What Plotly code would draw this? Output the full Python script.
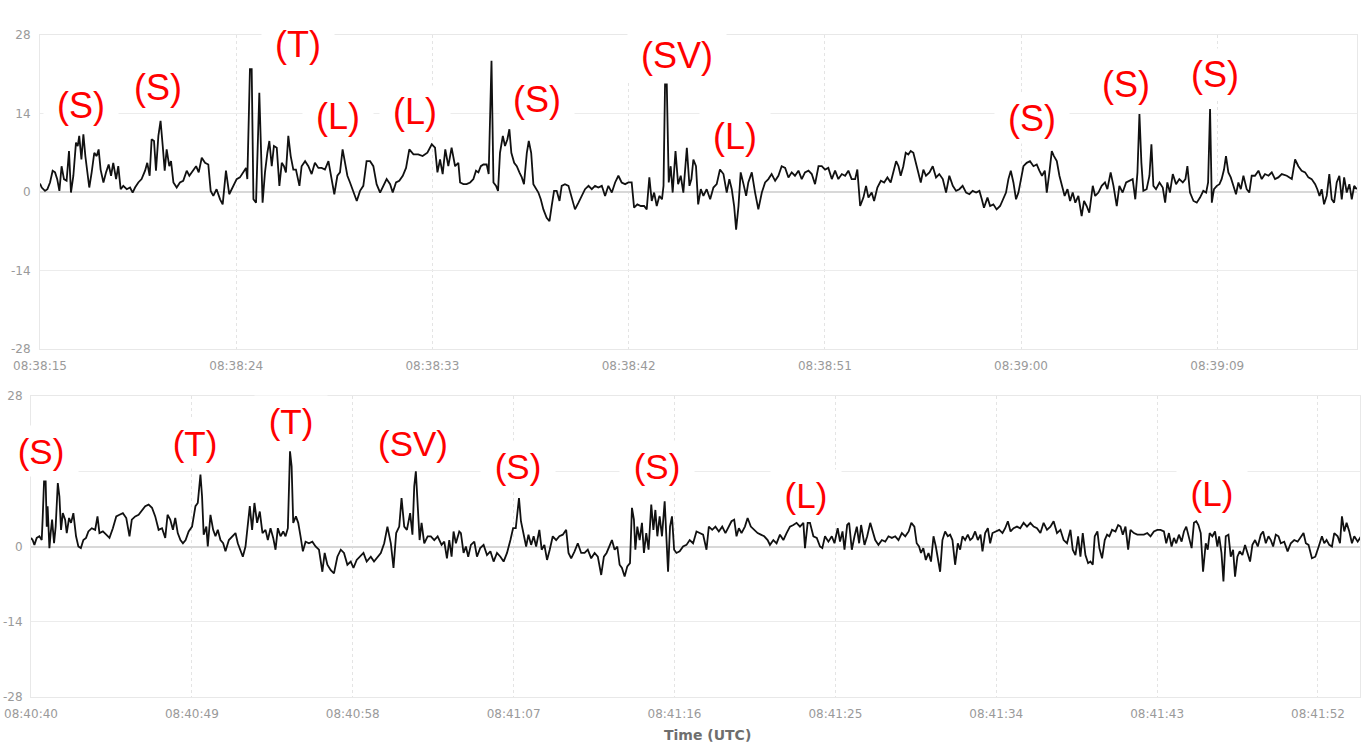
"""
Two-panel waveform trace with event labels (S / T / L / SV).
Plotly graph objects, two stacked date axes.
"""

import pandas as pd
import plotly.graph_objects as go

# ------------------------------------------------------------------ #
# Data (seconds after panel start, amplitude)                          #
# ------------------------------------------------------------------ #

TOP_START = "2021-01-01 08:38:15"
TOP_SPAN_S = 60.41
BOTTOM_START = "2021-01-01 08:40:40"
BOTTOM_SPAN_S = 74.35

top_t = [
    0.0, 0.08, 0.23, 0.34, 0.46, 0.58, 0.69, 0.79, 0.89, 0.99,
    1.10, 1.22, 1.33, 1.42, 1.53, 1.65, 1.73, 1.80, 1.90, 1.99,
    2.08, 2.17, 2.26, 2.37, 2.49, 2.60, 2.69, 2.78, 2.91, 3.03,
    3.15, 3.26, 3.36, 3.49, 3.59, 3.70, 3.82, 3.98, 4.13, 4.25,
    4.36, 4.51, 4.66, 4.82, 4.92, 5.03, 5.12, 5.23, 5.32, 5.43,
    5.53, 5.63, 5.72, 5.81, 5.93, 6.01, 6.12, 6.27, 6.42, 6.57,
    6.73, 6.85, 7.00, 7.16, 7.28, 7.42, 7.57, 7.72, 7.83, 7.95,
    8.10, 8.26, 8.38, 8.53, 8.68, 8.87, 9.02, 9.17, 9.33, 9.45,
    9.51, 9.63, 9.71, 9.79, 9.91, 10.06, 10.21, 10.32, 10.43, 10.52,
    10.63, 10.73, 10.86, 10.98, 11.09, 11.19, 11.28, 11.39, 11.50, 11.62,
    11.74, 11.90, 12.00, 12.16, 12.31, 12.46, 12.61, 12.77, 12.92, 13.07,
    13.23, 13.35, 13.50, 13.64, 13.76, 13.88, 14.01, 14.10, 14.22, 14.37,
    14.53, 14.68, 14.83, 14.98, 15.14, 15.29, 15.44, 15.60, 15.75, 15.90,
    16.06, 16.18, 16.33, 16.48, 16.64, 16.79, 16.94, 17.13, 17.35, 17.55,
    17.77, 17.97, 18.12, 18.23, 18.35, 18.47, 18.59, 18.73, 18.88, 19.04,
    19.19,
    19.27, 19.42, 19.57, 19.73, 19.88, 20.00, 20.11, 20.22, 20.34, 20.49,
    20.58, 20.71, 20.80, 20.92, 21.01, 21.10, 21.23, 21.33, 21.44, 21.53,
    21.62, 21.75, 21.87, 21.99, 22.10, 22.20, 22.33, 22.42, 22.53, 22.63,
    22.75, 22.86, 22.97, 23.09, 23.24, 23.37, 23.47, 23.58, 23.70, 23.83,
    23.93, 24.08, 24.24, 24.39, 24.54, 24.70, 24.85, 25.00, 25.16, 25.31,
    25.46, 25.61, 25.77, 25.92, 26.07, 26.23, 26.38, 26.53, 26.68, 26.84,
    26.99, 27.14, 27.25, 27.40, 27.56, 27.71, 27.83, 27.95, 28.06, 28.17,
    28.29, 28.41, 28.53, 28.60, 28.67, 28.75, 28.84, 28.93, 29.02, 29.15,
    29.27, 29.39, 29.51, 29.67, 29.79, 29.88, 29.97, 30.09, 30.19, 30.31,
    30.43, 30.58, 30.74, 30.89, 31.04, 31.19, 31.35, 31.50, 31.62, 31.73,
    31.84, 31.93, 32.04, 32.14, 32.27, 32.39, 32.49, 32.65, 32.80, 32.95,
    33.11, 33.26, 33.41, 33.56, 33.72, 33.87, 34.02, 34.18, 34.33, 34.48,
    34.63, 34.79, 34.94, 35.09, 35.25, 35.40, 35.55, 35.71, 35.86, 36.01,
    36.16, 36.32, 36.47, 36.62, 36.78, 36.93, 37.08, 37.23, 37.39, 37.49,
    37.62, 37.77, 37.89, 38.00, 38.15, 38.26, 38.41, 38.57, 38.72, 38.87,
    39.02, 39.15, 39.27, 39.38, 39.48, 39.60, 39.71, 39.83,
    39.94, 40.06, 40.18, 40.29, 40.40, 40.52, 40.64, 40.80, 40.95, 41.10,
    41.25, 41.41, 41.56, 41.71, 41.87, 42.02, 42.17, 42.32, 42.48, 42.63,
    42.78, 42.94, 43.09, 43.20, 43.30, 43.46, 43.58, 43.73, 43.88, 44.04,
    44.19, 44.31, 44.42, 44.53, 44.65, 44.77, 44.88, 44.98, 45.11, 45.26,
    45.41, 45.57, 45.72, 45.84, 45.96, 46.09, 46.18, 46.30, 46.41, 46.51,
    46.64, 46.76, 46.88, 47.00, 47.13, 47.25, 47.37, 47.49, 47.63, 47.78,
    47.89, 48.01, 48.13, 48.29, 48.40, 48.55, 48.70, 48.85, 48.96, 49.11,
    49.24, 49.39, 49.51, 49.66, 49.82, 49.97, 50.12, 50.24, 50.34, 50.43,
    50.52, 50.61, 50.76, 50.89, 50.98, 51.07, 51.19, 51.35, 51.50, 51.61,
    51.71, 51.83, 51.96, 52.11, 52.26, 52.42, 52.54, 52.63, 52.75, 52.91,
    53.06, 53.21, 53.36, 53.49, 53.58, 53.67, 53.75, 53.85, 53.98, 54.10,
    54.20, 54.31, 54.40, 54.51, 54.62, 54.74, 54.86, 54.97, 55.08, 55.20,
    55.35, 55.47, 55.58, 55.73, 55.89, 56.04, 56.19, 56.35, 56.50, 56.65,
    56.80, 56.96, 57.19, 57.42, 57.57, 57.72, 57.87, 58.03, 58.18, 58.33,
    58.49, 58.59, 58.69, 58.79, 58.90, 59.02, 59.14, 59.25, 59.36, 59.48,
    59.60, 59.71, 59.82, 59.94, 60.06, 60.17, 60.28, 60.40,
]

top_v = [
    1.5, 0.8, 0.2, 0.5, 1.7, 3.8, 3.5, 2.3, 0.2, 4.6,
    2.3, 2.0, 7.3, -0.1, 2.9, 8.8, 8.2, 10.0, 5.8, 10.3,
    6.4, 3.5, 0.8, 3.5, 7.0, 6.4, 7.6, 4.0, 1.7, 3.5,
    4.9, 2.9, 5.2, 2.3, 4.6, 0.5, 1.1, 0.5, 0.8, -0.1,
    0.8, 1.7, 2.3, 3.8, 5.2, 2.9, 9.4, 9.1, 3.8, 10.0,
    12.7, 8.2, 3.8, 7.6, 4.6, 5.5, 1.7, 0.8, 1.7, 2.0,
    3.8, 2.9, 3.8, 4.6, 3.5, 6.1, 5.2, 4.9, 0.2, -0.7,
    0.5, -1.3, -2.2, 3.8, -0.4, 1.1, 2.3, 2.6, 3.5, 4.3,
    2.3, 21.9, 21.9, -1.3, -1.9, 17.7, -1.9, 3.5, 7.0, 9.1,
    4.6, 8.2, 7.9, 1.1, 5.2, 4.6, 3.5, 10.0, 6.4, 4.0,
    4.0, 1.1, 4.6, 5.5, 4.6, 3.2, 5.2, 4.3, 4.3, 4.0,
    5.5, 2.6, -0.4, 2.9, 3.5, 7.6, 4.6, 2.9, 1.7, -0.1,
    -1.6, 0.2, 1.1, 5.5, 5.5, 4.6, 1.4, -0.1, 1.1, 2.3,
    1.4, -0.1, 1.7, 2.0, 2.9, 4.3, 7.6, 6.7, 6.7, 6.4,
    7.0, 8.5, 7.9, 3.5, 5.8, 3.2, 7.6, 4.6, 7.9, 4.6,
    5.2,
    1.7, 1.4, 1.4, 1.7, 2.3, 3.8, 3.5, 4.6, 4.9, 4.9,
    3.2, 23.4, 1.7, 1.1, 0.2, 7.0, 10.0, 8.2, 9.4, 11.2,
    7.0, 5.2, 4.6, 3.5, 2.6, 1.4, 7.0, 9.1, 7.0, 1.4,
    0.5, -0.1, -1.3, -3.1, -4.6, -5.2, -2.5, 0.2, 0.2, -1.6,
    1.1, 1.4, 1.1, -1.0, -3.1, -1.9, -0.7, 0.5, 1.1, 0.5,
    1.1, 0.8, 1.1, -0.7, 1.1, -0.1, 1.7, 2.9, 1.7, 1.4,
    1.7, 1.7, -2.8, -2.2, -2.5, -2.5, -3.1, 2.6, -1.6, -0.1,
    -2.5, -0.7, -1.3, 1.1, 19.2, 19.2, 1.7, 4.6, -0.1, 7.3,
    1.4, 2.9, -0.1, 7.9, 1.1, 2.3, 5.8, 4.6, -2.2, 0.5,
    -0.7, 0.5, -1.3, 0.8, 1.4, 4.0, 3.2, -0.1, 2.3, 0.5,
    -2.5, -6.7, -2.5, 3.5, 1.4, -0.7, 1.7, 3.5, -0.1, -3.1,
    -0.1, 1.7, 2.3, 3.2, 2.0, 2.9, 4.6, 4.3, 2.6, 3.5,
    2.9, 3.8, 2.3, 3.5, 3.8, 3.2, 1.4, 4.6, 4.6, 4.0,
    4.3, 2.3, 3.8, 2.3, 3.2, 2.9, 3.8, 2.3, 2.3, 4.0,
    -2.5, -1.0, 1.1, -1.0, -0.1, -1.6, 0.8, 2.0, 1.7, 2.6,
    1.7, 3.5, 5.5, 4.6, 2.9, 4.6, 7.0, 6.7,
    7.3, 7.0, 5.2, 3.5, 1.7, 4.0, 2.9, 3.5, 4.6, 2.6,
    3.2, 2.3, -0.1, 2.9, 1.1, 0.2, 0.5, 1.1, -0.1, -0.4,
    0.2, -0.1, 0.2, -1.3, -2.8, -1.0, -2.5, -2.2, -3.1, -2.5,
    -1.0, -0.1, 2.3, 3.8, 1.7, -1.3, -0.1, 1.7, 4.6, 5.2,
    5.5, 4.6, 4.9, 3.8, 2.9, 3.8, -0.1, 3.5, 7.3, 6.4,
    5.5, 2.9, 1.1, -0.7, 0.5, -1.6, -0.1, -1.9, -0.7, -4.3,
    -1.6, -2.5, -3.7, 1.1, -0.7, -0.1, 1.1, 1.7, 0.5, 3.5,
    1.1, -2.5, 1.1, -0.1, 1.7, 2.0, 2.3, -1.3, 3.5, 13.9,
    5.2, 0.2, 0.5, 2.9, 8.5, 1.1, 0.5, 1.7, 0.8, -1.9,
    1.7, -0.1, 3.2, 1.4, 2.3, 1.7, 2.3, 4.6, -0.1, -1.6,
    -1.9, -1.0, 0.2, -0.1, 1.7, 14.8, -1.9, 0.5, 1.1, 1.4,
    2.3, 4.0, 6.4, 3.5, 2.6, 1.1, -0.4, 1.7, 0.5, 2.9,
    0.5, -0.1, 2.9, 2.9, 3.8, 2.3, 3.2, 2.9, 3.5, 2.3,
    2.6, 3.2, 2.9, 2.3, 5.8, 4.6, 3.8, 3.5, 2.6, 2.3,
    1.4, 0.5, -0.7, 0.5, -2.2, -0.7, 3.2, -1.3, -1.9, 1.7,
    2.9, -1.3, 2.6, -0.1, 1.4, -1.3, 1.1, 0.5,
]

bottom_t = [
    0.0, 0.09, 0.19, 0.32, 0.47, 0.60, 0.65, 0.73, 0.82, 0.88,
    0.93, 1.03, 1.10, 1.18, 1.29, 1.38, 1.50, 1.59, 1.68, 1.78,
    1.91, 2.00, 2.13, 2.24, 2.37, 2.52, 2.65, 2.79, 2.93, 3.08,
    3.21, 3.40, 3.59, 3.72, 3.83, 4.02, 4.21, 4.39, 4.58, 4.77,
    4.95, 5.14, 5.33, 5.51, 5.64, 5.83, 6.02, 6.21, 6.39, 6.58,
    6.77, 6.95, 7.14, 7.33, 7.51, 7.64, 7.79, 7.94, 8.07, 8.21,
    8.36, 8.50, 8.65, 8.82, 9.01, 9.20, 9.33, 9.48, 9.57, 9.66,
    9.81, 9.89, 10.04, 10.19, 10.32, 10.45, 10.60, 10.75, 10.88, 11.07,
    11.25, 11.44, 11.57, 11.72, 11.85, 12.00, 12.13, 12.24, 12.37, 12.50,
    12.65, 12.80, 12.95, 13.12, 13.25, 13.40, 13.55, 13.68, 13.81, 13.96,
    14.11, 14.24, 14.37, 14.49, 14.58, 14.67, 14.82, 14.95, 15.08, 15.21,
    15.36, 15.55, 15.74, 15.92, 16.11, 16.30, 16.43, 16.58, 16.77, 16.95,
    17.14, 17.33, 17.51, 17.70, 17.89, 18.04, 18.22, 18.41, 18.60, 18.78,
    19.01, 19.19, 19.38, 19.57, 19.76, 19.94, 20.13, 20.28, 20.43, 20.60,
    20.73, 20.88, 21.03, 21.21, 21.34, 21.44, 21.53, 21.62, 21.74, 21.85,
    22.00, 22.19, 22.37, 22.56, 22.75, 22.97, 23.12, 23.27, 23.40, 23.53,
    23.64, 23.77, 23.96,
    24.05, 24.20, 24.33, 24.46, 24.61, 24.80, 24.95, 25.13, 25.32, 25.51,
    25.70, 25.88, 26.07, 26.26, 26.44, 26.63, 26.82, 26.97, 27.12, 27.23,
    27.30, 27.41, 27.56, 27.70, 27.83, 27.98, 28.12, 28.26, 28.44, 28.57,
    28.72, 28.87, 29.02, 29.19, 29.38, 29.56, 29.75, 29.94, 30.07, 30.22,
    30.41, 30.59, 30.78, 30.97, 31.15, 31.34, 31.53, 31.71, 31.90, 32.05,
    32.20, 32.35, 32.50, 32.65, 32.80, 32.93, 33.06, 33.21, 33.36, 33.51,
    33.62, 33.73, 33.81, 33.92, 34.05, 34.18, 34.29, 34.42, 34.55, 34.70,
    34.82, 34.93, 35.04, 35.17, 35.30, 35.45, 35.56, 35.64, 35.75, 35.86,
    35.98, 36.11, 36.29, 36.48, 36.67, 36.85, 37.04, 37.23, 37.41, 37.60,
    37.79, 37.92, 38.11, 38.29, 38.48, 38.67, 38.85, 39.04, 39.19, 39.34,
    39.47, 39.60, 39.75, 39.94, 40.09, 40.27, 40.46, 40.65, 40.83, 41.02,
    41.21, 41.34, 41.53, 41.71, 41.90, 42.09, 42.27, 42.46, 42.65, 42.83,
    43.02, 43.21, 43.30, 43.45, 43.58, 43.77, 43.96, 44.14, 44.27, 44.42,
    44.61, 44.80, 44.95, 45.13, 45.26, 45.40, 45.51, 45.66, 45.77, 45.92,
    46.07, 46.20, 46.33, 46.44, 46.63, 46.78, 46.95, 47.08, 47.23, 47.41,
    47.60, 47.79, 47.97, 48.16, 48.35, 48.53, 48.72, 48.91, 49.10, 49.25,
    49.42, 49.55, 49.68, 49.79, 49.92, 50.06, 50.21, 50.35, 50.49, 50.62,
    50.73, 50.86, 50.99, 51.14, 51.29, 51.42, 51.55, 51.70, 51.85, 51.98,
    52.11, 52.26, 52.41, 52.54, 52.67, 52.82, 52.97, 53.12, 53.23, 53.38,
    53.53, 53.66, 53.79, 53.98, 54.17, 54.35, 54.50, 54.65, 54.80, 54.97,
    55.16, 55.34, 55.53, 55.72, 55.91, 56.09, 56.28, 56.47, 56.65, 56.84,
    57.03, 57.21, 57.40, 57.59, 57.77, 57.96, 58.15, 58.28, 58.43, 58.58,
    58.71, 58.84, 58.99, 59.14, 59.27, 59.40, 59.51, 59.66, 59.77, 59.92,
    60.07, 60.20, 60.33, 60.48, 60.67, 60.82, 60.95, 61.08, 61.23, 61.38,
    61.51, 61.70, 61.89, 62.07, 62.26, 62.45, 62.63, 62.82, 63.01, 63.19,
    63.38, 63.51, 63.66, 63.81, 63.94, 64.07, 64.22, 64.37, 64.50, 64.63,
    64.78, 64.93, 65.06, 65.19, 65.31, 65.44, 65.57, 65.72, 65.83, 65.94,
    66.09, 66.24, 66.37, 66.47, 66.60, 66.71, 66.84, 66.99, 67.12, 67.25,
    67.36, 67.49, 67.62, 67.77, 67.92, 68.05, 68.20, 68.33, 68.48, 68.63,
    68.80, 68.93, 69.08, 69.23, 69.36, 69.49, 69.64, 69.79, 69.92, 70.11,
    70.30, 70.48, 70.67, 70.86, 71.04, 71.19, 71.32, 71.47, 71.66, 71.85,
    72.04, 72.22, 72.35, 72.48, 72.63, 72.78, 72.91, 73.10, 73.23, 73.34,
    73.47, 73.60, 73.75, 73.90, 74.03, 74.22, 74.41,
]

bottom_v = [
    1.6, 1.2, 0.3, 1.6, 1.9, 1.2, 5.0, 12.1, 12.1, 3.7,
    7.5, -0.3, 2.5, 5.0, 0.6, 3.7, 11.8, 9.3, 3.1, 6.2,
    5.0, 2.5, 5.3, 4.4, 6.2, 1.9, 0.0, -0.3, 1.2, 1.6,
    2.8, 3.4, 3.1, 5.6, 2.5, 2.8, 2.2, 1.6, 3.4, 5.6,
    5.9, 6.2, 5.3, 1.9, 5.0, 5.6, 5.9, 6.8, 7.5, 7.8,
    7.2, 5.6, 3.1, 3.4, 1.6, 5.9, 5.0, 3.1, 5.3, 2.5,
    1.2, 0.6, 1.2, 2.8, 3.7, 7.5, 8.1, 13.4, 9.3, 2.2,
    3.7, 0.0, 5.9, 3.1, 1.9, 3.1, 1.2, 0.6, -0.9, 1.2,
    1.9, 2.5, 0.6, -0.6, -1.9, 0.0, 3.7, 7.5, 3.1, 8.1,
    4.4, 6.5, 2.5, 3.1, 1.2, 3.4, 1.6, -0.6, 3.4, 1.9,
    2.8, 1.9, 3.4, 17.7, 14.9, 4.4, 5.6, 4.4, 1.9, -0.9,
    0.9, 0.6, 0.9, 0.0, -0.6, -4.7, -1.2, -3.4, -4.4, -5.0,
    -1.9, -0.6, -1.2, -3.4, -2.8, -4.0, -2.5, -1.9, -1.2, -2.8,
    -1.9, -2.8, -1.9, -1.2, 0.6, 3.7, 0.6, -4.0, 2.5, 3.7,
    9.0, 3.7, 3.1, 6.2, 2.2, 11.2, 14.0, 7.5, 1.2, 4.4,
    0.6, 1.9, 1.9, 1.2, 1.9, 0.3, 0.9, -2.2, 1.2, -1.9,
    2.8, 0.6, 2.8,
    2.5, -1.2, 0.0, -1.9, 0.3, 0.9, -1.9, -0.3, 0.3, -1.6,
    -0.9, -2.8, -1.2, -1.9, -2.8, -1.2, 1.2, 3.4, 3.4, 6.5,
    9.0, 4.7, 1.9, 0.0, 2.2, 0.3, 1.9, 0.0, 3.1, -0.6,
    0.3, -2.5, -0.6, 1.9, 1.2, 1.9, 2.2, 3.1, -1.2, -2.2,
    -0.9, 0.6, -1.2, -1.2, -0.6, -2.2, -1.2, -1.9, -5.3, -1.9,
    -1.2, 0.0, 1.2, -0.6, 0.0, -3.4, -4.0, -5.6, -3.7, -3.1,
    7.2, 5.0, -0.6, 3.7, 1.2, 4.4, -1.2, 2.5, -0.6, 7.8,
    3.1, 6.8, 1.9, 5.6, 1.9, 8.4, -1.2, -4.7, 3.7, 5.6,
    -0.6, -1.2, -0.9, 0.0, 0.3, 1.2, 0.6, 2.8, 2.5, 2.2,
    -0.6, 3.7, 3.1, 3.7, 2.8, 3.7, 2.5, 3.7, 4.7, 5.0,
    1.9, 3.4, 2.5, 3.7, 5.3, 3.7, 3.1, 2.5, 2.2, 1.9,
    1.2, 0.3, 1.2, 0.6, 2.2, 1.2, 2.5, 3.7, 4.0, 4.4,
    3.7, 4.4, -0.3, 4.4, 4.4, 1.9, 1.6, 0.0, -0.3, 1.9,
    0.9, 1.9, 0.6, 3.4, 0.9, 2.8, -0.6, 4.0, 4.4, -0.6,
    1.9, 3.7, 0.6, 4.0, 0.3, 1.9, 4.4, 3.1, 1.2, 0.3,
    1.2, 0.9, 1.9, 1.6, 1.9, 1.2, 2.5, 1.9, 2.8, 4.4,
    3.7, 0.6, 0.0, -1.2, -0.3, -2.5, -1.2, -2.8, 1.9, 0.0,
    -1.9, -4.7, 1.2, 2.8, 1.9, 2.2, 1.2, -3.4, 0.6, -0.6,
    1.9, 1.2, 2.2, 1.2, 1.6, 2.8, 1.2, 2.2, -0.9, 2.5,
    3.4, 0.6, 2.5, 2.8, 3.1, 2.5, 3.4, 4.7, 2.8, 3.4,
    3.7, 3.4, 4.4, 3.7, 4.4, 3.7, 3.4, 2.5, 4.4, 3.1,
    3.7, 4.7, 2.5, 3.1, 1.2, 0.6, 3.1, -0.6, -1.6, 1.9,
    -1.9, 2.5, -1.6, -3.1, -2.8, -3.4, 1.9, 2.8, -0.3, -2.2,
    1.2, 2.2, 1.9, 3.1, 2.8, 4.0, 3.7, 2.2, 3.7, -0.6,
    3.1, 2.5, 2.2, 2.2, 2.2, 2.5, 1.9, 2.8, 3.1, 3.1,
    2.8, 0.6, 2.5, 0.0, 1.6, 0.6, 2.2, 0.9, 2.8, 3.7,
    1.9, -0.3, 4.4, 4.7, 4.0, 2.5, -4.7, 0.6, -0.6, 2.5,
    1.9, 2.8, 0.0, 1.9, -1.2, -6.5, 1.9, 2.2, -1.9, -0.6,
    -5.6, -1.9, -0.9, -1.6, 0.3, -1.2, -2.8, 0.3, 1.2, 0.0,
    2.2, 2.8, 0.6, 1.9, 1.2, 0.0, 2.2, 1.9, 0.6, 0.9,
    -0.9, 0.6, 1.2, 0.9, 1.9, 2.5, 0.6, 0.3, -2.2, -1.9,
    0.0, 1.9, 0.6, 1.2, 0.3, 0.0, 2.5, 1.9, 0.6, 5.6,
    2.8, 4.4, 2.8, 0.6, 1.9, 0.9, 1.9,
]

# event labels: text, seconds after panel start, amplitude at label centre
top_labels = ["(S)", "(S)", "(T)", "(L)", "(L)", "(T)",
              "(S)", "(SV)", "(L)", "(S)", "(S)", "(S)"]
top_label_t = [1.88, 5.41, 11.83, 13.67, 17.20, 20.96,
               22.80, 29.22, 31.88, 45.50, 49.82, 53.90]
top_label_v = [15.5, 18.7, 26.4, 13.5, 14.4, 29.9,
               16.6, 24.4, 9.9, 13.2, 19.2, 21.0]

bottom_labels = ["(S)", "(T)", "(T)", "(SV)", "(S)", "(S)", "(L)", "(L)"]
bottom_label_t = [0.56, 9.19, 14.52, 21.36, 27.24, 35.03, 43.33, 66.09]
bottom_label_v = [17.7, 19.3, 23.3, 19.3, 14.9, 14.9, 9.5, 10.0]

y_ticks = [-28, -14, 0, 14, 28]
top_y_text = ["-28", "-14", "0", "14", "28"]
bottom_y_text = ["-28", "-14", "0", "", "28"]   # the 14 label is hidden behind "(S)"

assert len(top_t) == len(top_v), (len(top_t), len(top_v))
assert len(bottom_t) == len(bottom_v), (len(bottom_t), len(bottom_v))

# ------------------------------------------------------------------ #
# Figure                                                               #
# ------------------------------------------------------------------ #

W, H = 1366, 746
TICK_FONT = dict(family="DejaVu Sans", size=12, color="#9a9a9a")
LABEL_WIDTH = {"(S)": 72, "(T)": 70, "(L)": 68, "(SV)": 96}


def to_time(start, secs):
    return pd.Timestamp(start) + pd.to_timedelta(pd.Series(secs), unit="s")


def x_axis(domain, start, span, anchor):
    return dict(
        domain=domain, anchor=anchor, type="date",
        range=[pd.Timestamp(start), pd.Timestamp(start) + pd.Timedelta(seconds=span)],
        tick0=pd.Timestamp(start), dtick=9000, tickformat="%H:%M:%S",
        tickfont=TICK_FONT, ticks="", ticklabelstandoff=6,
        showgrid=True, gridcolor="#e4e4e4", griddash="dot", gridwidth=1,
        showline=True, linecolor="#e8e8e8", mirror=True,
        zeroline=False, automargin=False, fixedrange=True,
    )


def y_axis(domain, anchor, standoff, ticktext):
    return dict(
        domain=domain, anchor=anchor, range=[-28, 28],
        tickvals=y_ticks, ticktext=ticktext,
        tickfont=TICK_FONT, ticks="", ticklabelstandoff=standoff,
        showgrid=True, gridcolor="#ececec", gridwidth=1,
        zeroline=True, zerolinecolor="#d8d8d8", zerolinewidth=1.5,
        showline=True, linecolor="#e8e8e8", mirror=True,
        automargin=False, fixedrange=True,
    )


fig = go.Figure()
fig.add_trace(go.Scatter(
    x=to_time(TOP_START, top_t), y=top_v, mode="lines",
    line=dict(color="#111111", width=1.8), xaxis="x", yaxis="y",
    showlegend=False, hoverinfo="skip",
))
fig.add_trace(go.Scatter(
    x=to_time(BOTTOM_START, bottom_t), y=bottom_v, mode="lines",
    line=dict(color="#111111", width=1.8), xaxis="x2", yaxis="y2",
    showlegend=False, hoverinfo="skip",
))

annotations = []
for text, t, v in zip(top_labels, top_label_t, top_label_v):
    annotations.append(dict(
        x=pd.Timestamp(TOP_START) + pd.Timedelta(seconds=t), y=v,
        xref="x", yref="y", text=text, showarrow=False,
        font=dict(family="Liberation Sans", size=36, color="#ff0000"),
        bgcolor="white", width=LABEL_WIDTH[text], height=48,
        xanchor="center", yanchor="middle",
    ))
for text, t, v in zip(bottom_labels, bottom_label_t, bottom_label_v):
    annotations.append(dict(
        x=pd.Timestamp(BOTTOM_START) + pd.Timedelta(seconds=t), y=v,
        xref="x2", yref="y2", text=text, showarrow=False,
        font=dict(family="Liberation Sans", size=35, color="#ff0000"),
        bgcolor="white", width=LABEL_WIDTH[text], height=48,
        xanchor="center", yanchor="middle",
    ))
annotations.append(dict(
    x=707 / W, y=1 - 735 / H, xref="paper", yref="paper",
    text="<b>Time (UTC)</b>", showarrow=False,
    font=dict(family="DejaVu Sans", size=14, color="#6e6e6e"),
    xanchor="center", yanchor="middle",
))

fig.update_layout(
    width=W, height=H,
    template="none",
    paper_bgcolor="white", plot_bgcolor="white",
    margin=dict(l=0, r=0, t=0, b=0),
    showlegend=False,
    xaxis=x_axis([40 / W, 1357 / W], TOP_START, TOP_SPAN_S, "y"),
    yaxis=y_axis([1 - 349 / H, 1 - 35 / H], "x", 6, top_y_text),
    xaxis2=x_axis([31 / W, 1360 / W], BOTTOM_START, BOTTOM_SPAN_S, "y2"),
    yaxis2=y_axis([1 - 697 / H, 1 - 396 / H], "x2", 5, bottom_y_text),
    annotations=annotations,
)

fig.write_html(
    "out.html",
    config={"displayModeBar": False},
    post_script="document.body.style.margin='0';",
)
